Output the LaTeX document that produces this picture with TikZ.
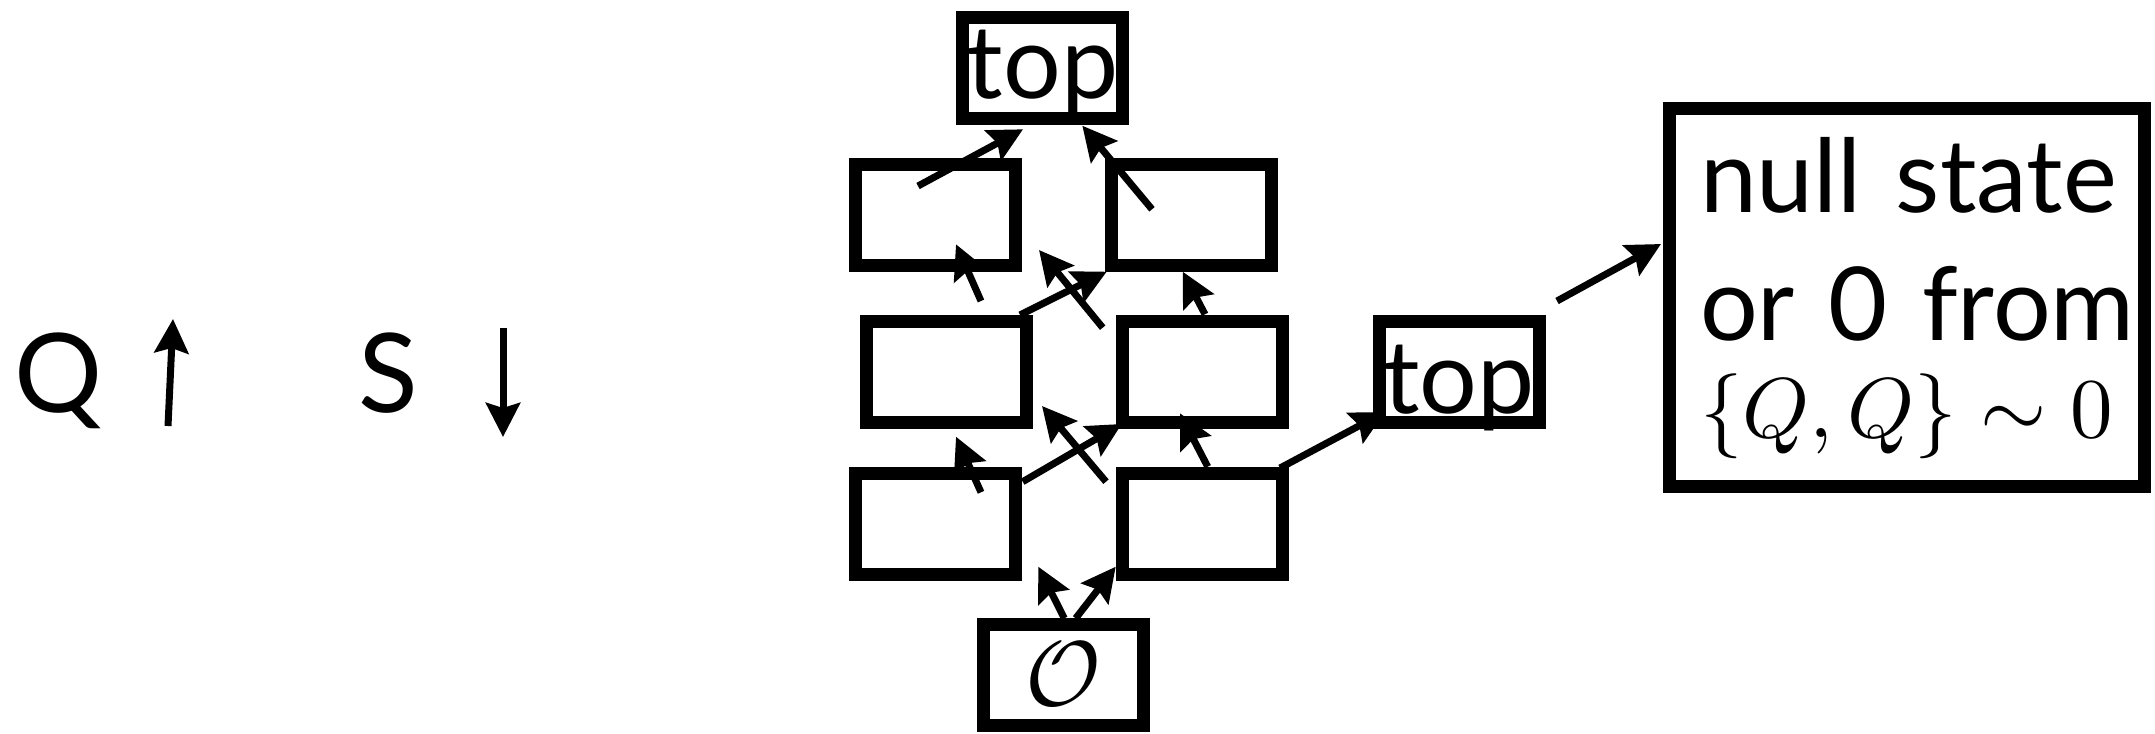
\documentclass[tikz,border=0pt]{standalone}
\usepackage{graphicx}
\usepackage[no-math]{fontspec}
\setmainfont{Lato}
\usetikzlibrary{arrows.meta,calc}

\begin{document}
\begin{tikzpicture}[x=0.5pt,y=-0.5pt,
  box/.style={draw=black, line width=6.5pt, minimum width=80pt,
    minimum height=50.5pt, inner sep=0pt},
  boxtext/.style={font=\fontsize{51}{60}\selectfont},
  link/.style={line width=3.5pt,
    -{Stealth[length=17pt,width=17pt,inset=2.5pt]}},
  sign/.style={anchor=base west, inner sep=0pt,
    font=\fontsize{55}{66}\selectfont},
]
\useasboundingbox (0,0) rectangle (2155,733);

% operators and their direction
\node[sign] (q) at (14,412) {Q};
\node[sign] (s) at (358,412) {S};
\coordinate (qa) at (168,426);
\coordinate (qb) at (173,319);
\coordinate (sa) at (503,328);
\coordinate (sb) at (503,437);
\draw[link] (qa) -- (qb);
\draw[link] (sa) -- (sb);

% lattice of states
\node[box, boxtext, text height=36pt, text depth=6pt] (top) at (1042.5,68) {top};
\node[box] (r1l) at (935.5,214.5) {};
\node[box] (r1r) at (1191.5,214.5) {};
\node[box] (r2l) at (946,372) {};
\node[box] (r2r) at (1202.5,372) {};
\node[box] (r3l) at (935.5,524) {};
\node[box] (r3r) at (1202.5,524) {};
\node[box, font=\fontsize{10}{12}\selectfont] (o) at (1063.5,674.5) {\scalebox{4.6}{$\mathcal{O}$}};
\node[box, boxtext, text height=45pt, text depth=4pt] (topr) at (1459,372) {top};
\node[box, minimum width=237.5pt, minimum height=189pt,
  text width=207pt, align=left, text height=40pt, text depth=125.5pt,
  font=\fontsize{51}{64}\selectfont] (big) at (1907,297.5)
  {\mbox{null state}\\ \mbox{or 0 from}\\[-15.5pt]
   \mbox{\fontsize{10}{12}\selectfont\scalebox{4.25}{$\{Q,Q\}\sim 0$}}};

% arrows between the states
\draw[link] ([shift={(-17.5,-28.5)}]r1l.center) -- ([shift={(-19.5,61.3)}]top.center);
\draw[link] ([shift={(-39.5,-5.2)}]r1r.center) -- ([shift={(39.8,57.7)}]top.center);
\draw[link] ([shift={(35,-71)}]r2l.center) -- ([shift={(20.5,29.8)}]r1l.center);
\draw[link] ([shift={(-99.8,-44.3)}]r2r.center) -- ([shift={(103.5,35.5)}]r1l.center);
\draw[link] ([shift={(74,-57)}]r2l.center) -- ([shift={(-84.8,57.2)}]r1r.center);
\draw[link] ([shift={(2.5,-57.7)}]r2r.center) -- ([shift={(-8.8,57.2)}]r1r.center);
\draw[link] ([shift={(45.5,-31.7)}]r3l.center) -- ([shift={(10,64.7)}]r2l.center);
\draw[link] ([shift={(87.2,-42.3)}]r3l.center) -- ([shift={(-80.8,52)}]r2r.center);
\draw[link] ([shift={(-96.5,-42.3)}]r3r.center) -- ([shift={(96,34)}]r2l.center);
\draw[link] ([shift={(5.2,-57.3)}]r3r.center) -- ([shift={(-22.5,41.3)}]r2r.center);
\draw[link] ([shift={(77.5,-56)}]r3r.center) -- ([shift={(-74,40)}]topr.center);
\draw[link] ([shift={(98,-71)}]topr.center) -- ([shift={(-246,-53.5)}]big.center);
\draw[link] ([shift={(0.8,-56.2)}]o.center) -- ([shift={(102.8,42.7)}]r3l.center);
\draw[link] ([shift={(12.2,-56.2)}]o.center) -- ([shift={(-86.8,42.7)}]r3r.center);
\end{tikzpicture}
\end{document}
